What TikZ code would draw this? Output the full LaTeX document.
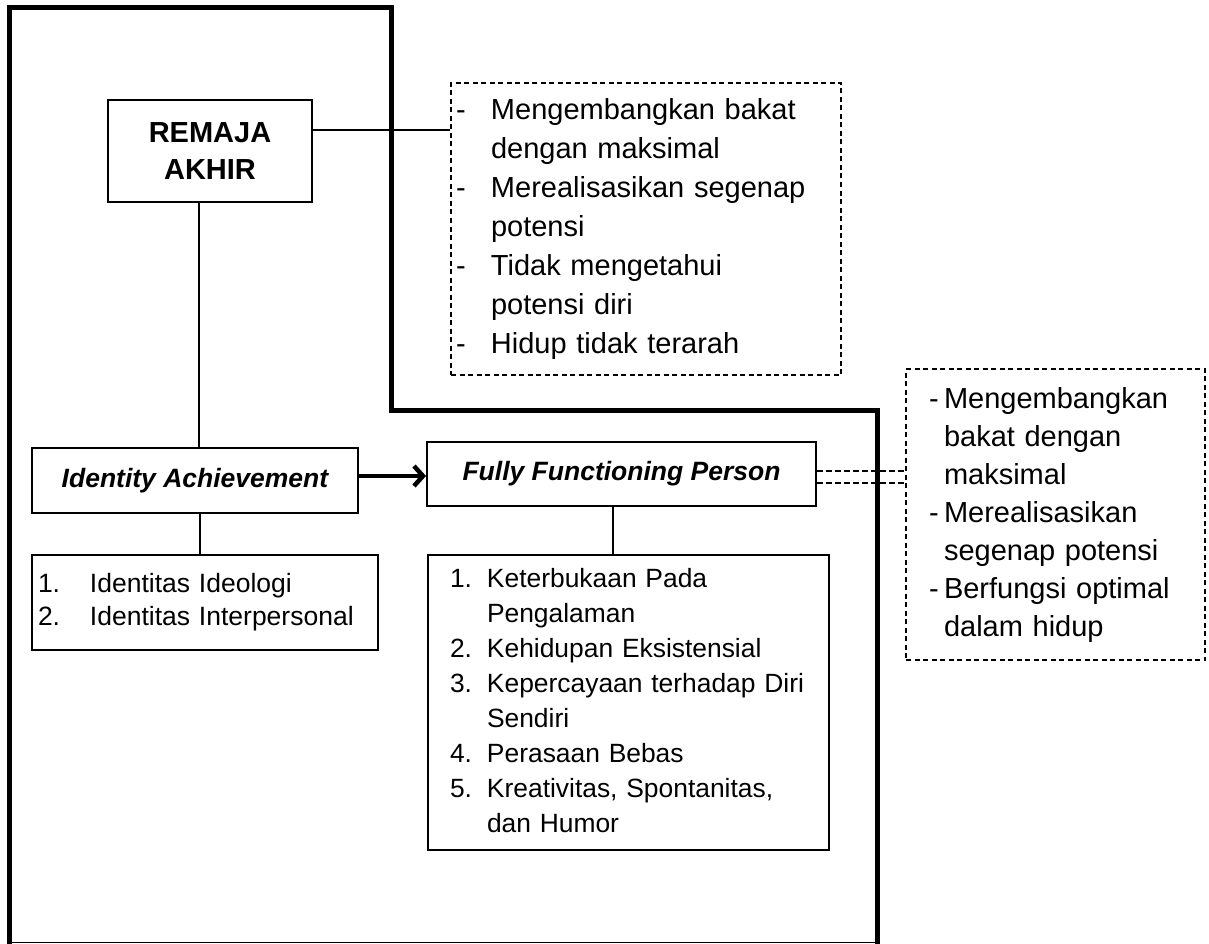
\documentclass[tikz,border=0pt]{standalone}
\usepackage{fontspec}
\setmainfont{Liberation Sans}
\usetikzlibrary{arrows.meta}

\begin{document}
\begin{tikzpicture}[x=1pt, y=-1pt,
    kotak/.style={draw, line width=2pt, inner sep=0pt},
    kotakputus/.style={draw, line width=1.4pt, dash pattern=on 5pt off 3.5pt, inner sep=0pt},
    garis/.style={line width=1.5pt},
    garisputus/.style={line width=1.5pt, dash pattern=on 6pt off 3pt},
    judul/.style={font=\fontsize{26.5}{32}\selectfont\bfseries\itshape}]
    % Ukuran halaman
    \useasboundingbox (0,0) rectangle (1209,944);

    % Bingkai tebal
    \draw[line width=5pt, line join=miter] (9.5,944) -- (9.5,8) -- (391,8) -- (391,410.5) -- (877.5,410.5) -- (877.5,944);
    \draw[line width=1.2pt] (9.5,942.5) -- (877.5,942.5);

    % Kotak utama
    \node[kotak, minimum width=204pt, minimum height=102pt, align=center,
        font=\fontsize{29}{37}\selectfont\bfseries] (remaja) at (210,151) {REMAJA\\AKHIR};
    \node[kotak, judul, minimum width=326pt, minimum height=65pt] (ia) at (195,480.5) {Identity Achievement};
    \node[kotak, judul, minimum width=389pt, minimum height=64pt] (ffp) at (621.5,474) {Fully Functioning Person};

    % Daftar ciri
    \node[kotak, minimum width=346pt, minimum height=95pt, inner xsep=6pt, text width=334pt, align=left,
        font=\fontsize{26.5}{33}\selectfont] (identitas) at (205,602.5) {%
        \begin{tabular}{@{}p{52pt}@{}l@{}}
        1. & Identitas Ideologi\\
        2. & Identitas Interpersonal
        \end{tabular}};
    \node[kotak, minimum width=401pt, minimum height=295pt, inner xsep=22pt, text width=357pt, align=left,
        font=\fontsize{26.4}{35}\selectfont] (ciri) at (628.5,702.5) {%
        \begin{tabular}{@{}p{37pt}@{}l@{}}
        1. & Keterbukaan Pada\\
           & Pengalaman\\
        2. & Kehidupan Eksistensial\\
        3. & Kepercayaan terhadap Diri\\
           & Sendiri\\
        4. & Perasaan Bebas\\
        5. & Kreativitas, Spontanitas,\\
           & dan Humor
        \end{tabular}};

    % Kotak putus-putus
    \node[kotakputus, minimum width=390pt, minimum height=292pt, inner xsep=5pt, text width=380pt, align=left,
        font=\fontsize{29}{39}\selectfont] (harap) at (646,229) {%
        \begin{tabular}{@{}p{35pt}@{}l@{}}
        - & Mengembangkan bakat\\
          & dengan maksimal\\
        - & Merealisasikan segenap\\
          & potensi\\
        - & Tidak mengetahui\\
          & potensi diri\\
        - & Hidup tidak terarah
        \end{tabular}};
    \node[kotakputus, minimum width=299pt, minimum height=291pt, inner xsep=23pt, text width=253pt, align=left,
        font=\fontsize{29}{38}\selectfont] (hasil) at (1055.5,514.5) {%
        \begin{tabular}{@{}p{15pt}@{}l@{}}
        - & Mengembangkan\\
          & bakat dengan\\
          & maksimal\\
        - & Merealisasikan\\
          & segenap potensi\\
        - & Berfungsi optimal\\
          & dalam hidup
        \end{tabular}};

    % Garis penghubung
    \draw[garis] ([yshift=21pt]remaja.east) -- ([yshift=21pt]remaja.east -| harap.west);
    \draw[garis] ([xshift=-11pt]remaja.south) -- ([xshift=-11pt]remaja.south |- ia.north);
    \draw[garis] ([xshift=5pt]ia.south) -- ([xshift=5pt]ia.south |- identitas.north);
    \draw[garis] ([xshift=-8.5pt]ffp.south) -- ([xshift=-8.5pt]ffp.south |- ciri.north);

    % Panah
    \draw[line width=4.5pt, -{Straight Barb[length=9pt, width=20pt]}] ([yshift=4.5pt]ia.east) -- ([yshift=4.5pt]ia.east -| ffp.west);

    % Garis ganda putus-putus
    \draw[garisputus] ([yshift=3pt]ffp.east) -- ([yshift=3pt]ffp.east -| hasil.west);
    \draw[garisputus] ([yshift=-9pt]ffp.east) -- ([yshift=-9pt]ffp.east -| hasil.west);
\end{tikzpicture}
\end{document}
